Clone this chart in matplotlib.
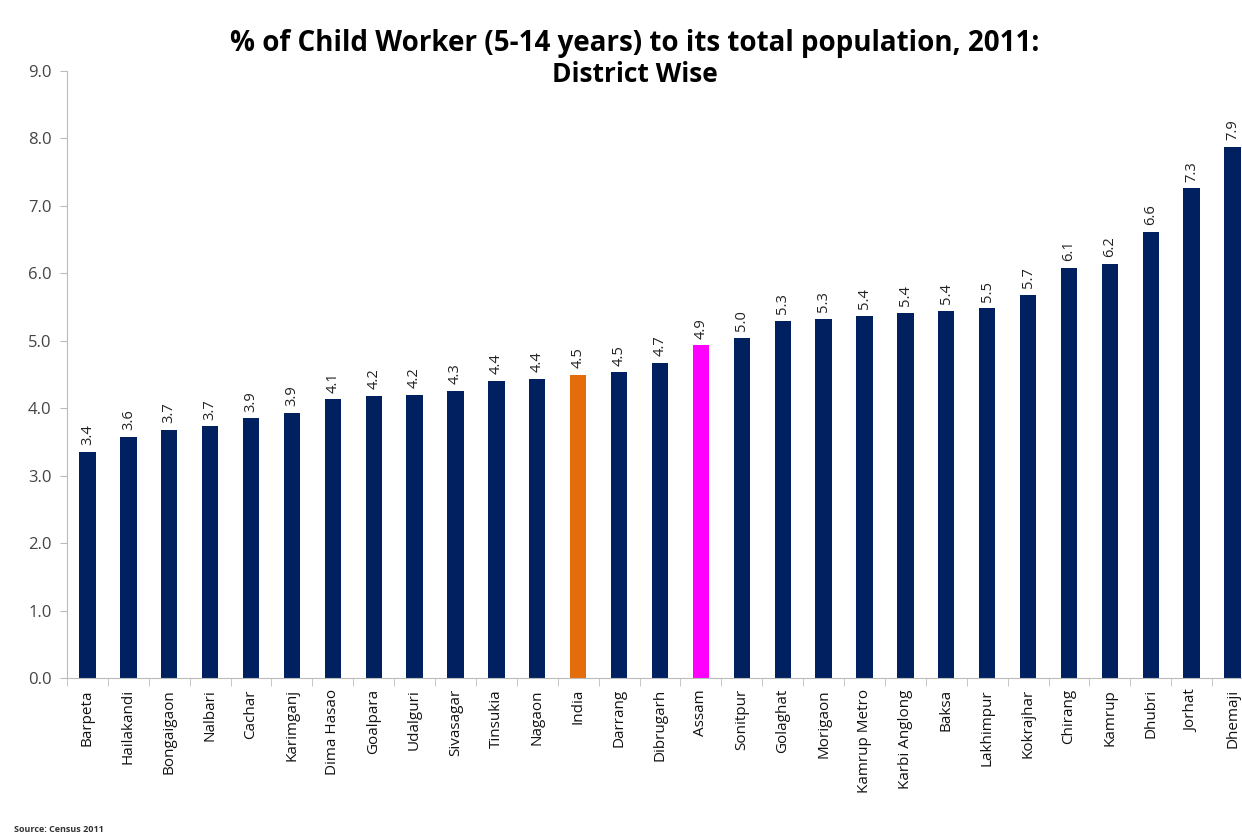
import numpy as np
import matplotlib
matplotlib.use('Agg')
import matplotlib.pyplot as plt

# Данные: районы Ассама, доля детей-работников (5-14 лет), 2011
districts = ['Barpeta', 'Hailakandi', 'Bongaigaon', 'Nalbari', 'Cachar', 'Karimganj',
             'Dima Hasao', 'Goalpara', 'Udalguri', 'Sivasagar', 'Tinsukia', 'Nagaon',
             'India', 'Darrang', 'Dibrugarh', 'Assam', 'Sonitpur', 'Golaghat', 'Morigaon',
             'Kamrup Metro', 'Karbi Anglong', 'Baksa', 'Lakhimpur', 'Kokrajhar', 'Chirang',
             'Kamrup', 'Dhubri', 'Jorhat', 'Dhemaji']
values = [3.35, 3.58, 3.68, 3.73, 3.85, 3.93, 4.13, 4.18, 4.2, 4.26, 4.4, 4.43,
          4.5, 4.53, 4.67, 4.93, 5.04, 5.3, 5.33, 5.37, 5.41, 5.44, 5.48, 5.68, 6.08,
          6.14, 6.62, 7.26, 7.88]
labels = ['3.4', '3.6', '3.7', '3.7', '3.9', '3.9', '4.1', '4.2', '4.2', '4.3', '4.4', '4.4',
          '4.5', '4.5', '4.7', '4.9', '5.0', '5.3', '5.3', '5.4', '5.4', '5.4', '5.5', '5.7',
          '6.1', '6.2', '6.6', '7.3', '7.9']
highlight = {'India': '#E46C0A', 'Assam': '#FF00FF'}

plt.rcParams['font.family'] = ['Open Sans', 'DejaVu Sans']

fig = plt.figure(figsize=(12.42, 8.36), dpi=100)
ax = fig.add_axes([67 / 1242, 1 - 678 / 836, (1253 - 67) / 1242, (678 - 71) / 836])

x = np.arange(len(districts))
colors = [highlight.get(d, '#002060') for d in districts]
ax.bar(x, values, width=0.4, color=colors)

# Подписи значений над столбцами
for xi, v, lab in zip(x, values, labels):
    ax.text(xi, v + 0.1, lab, rotation=90, ha='center', va='bottom', fontsize=10.5, color='#222222')

ax.set_xlim(-0.5, len(districts) - 0.5)
ax.set_ylim(0, 9)
ax.set_yticks(np.arange(0, 9.1, 1.0))
ax.set_yticklabels([f'{t:.1f}' for t in np.arange(0, 9.1, 1.0)], fontsize=12, color='#444444')
ax.set_xticks(x)
ax.set_xticklabels(districts, rotation=90, fontsize=11, color='#111111')
ax.tick_params(axis='x', length=0, pad=8)
ax.set_xticks(np.arange(-0.5, len(districts), 1), minor=True)
ax.tick_params(axis='x', which='minor', length=6, color='#bbbbbb', direction='out')
ax.tick_params(axis='y', length=5, color='#bbbbbb', pad=6)

for side in ['top', 'right']:
    ax.spines[side].set_visible(False)
ax.spines['left'].set_color('#bbbbbb')
ax.spines['bottom'].set_color('#bbbbbb')

fig.text(635 / 1242, 1 - 44 / 836, '% of Child Worker (5-14 years) to its total population, 2011:',
         ha='center', va='center', fontsize=20, fontweight='bold')
fig.text(635 / 1242, 1 - 74 / 836, 'District Wise',
         ha='center', va='center', fontsize=19, fontweight='bold')
fig.text(14 / 1242, 1 - 829 / 836, 'Source: Census 2011', ha='left', va='center',
         fontsize=6.5, fontweight='bold', color='#333333')

fig.savefig('out.png', dpi=100)
plt.close()
